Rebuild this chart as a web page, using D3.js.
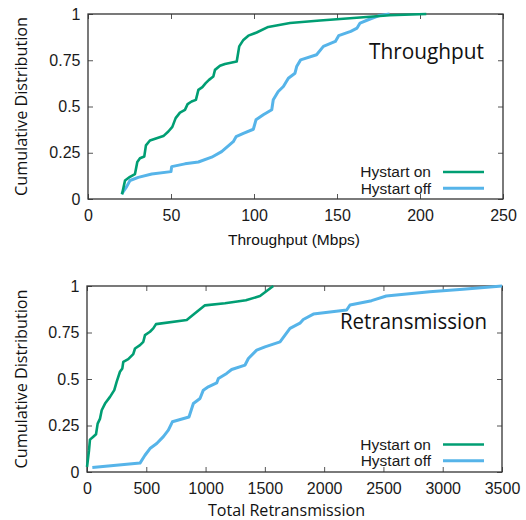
<!DOCTYPE html>
<html>
<head>
<meta charset="utf-8">
<script src="https://cdn.jsdelivr.net/npm/d3@7"></script>
<style>
  html, body { margin: 0; padding: 0; background: #fff; }
  svg { display: block; }
</style>
</head>
<body>
<svg id="chart" width="526" height="520"></svg>
<script>
// CDF of per-flow throughput (Mbps), [value, cumulative fraction]
const throughputOn = [
  [20.5,0.025],[22.3,0.10],[25.3,0.12],[28.3,0.135],[29.7,0.20],[31.3,0.22],[33.9,0.23],
  [34.9,0.29],[37.3,0.316],[45.4,0.34],[48.4,0.365],[50.8,0.39],[52.8,0.437],[55.4,0.467],
  [58.4,0.482],[60,0.513],[62.4,0.527],[65,0.536],[66.5,0.59],[68.9,0.605],[70.9,0.626],
  [72.9,0.644],[75.5,0.662],[76.5,0.698],[79.5,0.72],[82.5,0.73],[89.6,0.743],[91.1,0.825],
  [93.6,0.86],[96.6,0.883],[101.6,0.90],[108.6,0.93],[121.7,0.951],[139.8,0.965],
  [163.9,0.981],[181.7,0.993],[203.8,1.0]
];
const throughputOff = [
  [20.3,0.027],[23.3,0.067],[25.3,0.10],[30.3,0.117],[38.4,0.135],[50,0.148],[50.4,0.175],
  [58.4,0.19],[66.5,0.20],[74.5,0.226],[80.5,0.256],[87.5,0.31],[89.2,0.337],[93.6,0.355],
  [99.6,0.377],[101.2,0.428],[105.6,0.455],[110.7,0.482],[111.6,0.536],[114.6,0.581],
  [117.7,0.608],[120.7,0.653],[124.7,0.68],[125.7,0.716],[128.1,0.752],[137.7,0.78],
  [141.8,0.825],[149,0.852],[151,0.883],[158.3,0.906],[162.1,0.924],[163.9,0.951],
  [169.9,0.973],[175,0.99],[181.7,1.0]
];

// CDF of total retransmissions per flow
const retransOn = [
  [0,0.027],[17,0.117],[25,0.174],[53,0.19],[76,0.203],[90,0.26],[110,0.287],[124,0.332],
  [152,0.368],[194,0.404],[230,0.44],[250,0.485],[278,0.539],[298,0.557],[306,0.592],
  [348,0.607],[390,0.634],[405,0.664],[447,0.682],[475,0.70],[489,0.736],[531,0.754],
  [559,0.772],[582,0.795],[841,0.817],[911,0.853],[995,0.896],[1164,0.907],[1340,0.923],
  [1459,0.946],[1571,1.0]
];
const retransOff = [
  [45,0.024],[447,0.048],[489,0.09],[531,0.126],[588,0.153],[644,0.19],[686,0.225],
  [720,0.27],[860,0.296],[897,0.368],[953,0.395],[981,0.44],[1023,0.458],[1094,0.479],
  [1108,0.503],[1178,0.53],[1220,0.551],[1333,0.575],[1361,0.61],[1431,0.655],[1501,0.673],
  [1628,0.70],[1670,0.736],[1712,0.772],[1796,0.80],[1824,0.82],[1909,0.849],[2190,0.871],
  [2218,0.898],[2400,0.921],[2524,0.946],[2890,0.969],[3171,0.982],[3500,1.0]
];

const throughputTicks = [0, 50, 100, 150, 200, 250];
const retransTicks = [0, 500, 1000, 1500, 2000, 2500, 3000, 3500];
const cdfTicks = [0, 0.25, 0.5, 0.75, 1];
const seriesNames = ["Hystart on", "Hystart off"];

const colors = { on: "#009e73", off: "#56b4e9" };
const tickFont = "'Liberation Sans', Arial, sans-serif";
const labelFont = "'Open Sans', Lato, sans-serif";

const svg = d3.select("#chart");

function panel(cfg) {
  const g = svg.append("g");
  const x = d3.scaleLinear().domain(cfg.xDomain).range([cfg.left, cfg.right]);
  const y = d3.scaleLinear().domain([0, 1]).range([cfg.bottom, cfg.top]);

  const fmt = d3.format("~g");
  const fmtX = d3.format("d");

  // bottom axis with labels, ticks pointing inward
  g.append("g")
    .attr("transform", `translate(0,${cfg.bottom})`)
    .call(d3.axisBottom(x).tickValues(cfg.xTicks).tickSize(-5).tickSizeOuter(0).tickPadding(11).tickFormat(fmtX))
    .call(a => a.select(".domain").remove());
  // top mirror ticks
  g.append("g")
    .attr("transform", `translate(0,${cfg.top})`)
    .call(d3.axisTop(x).tickValues(cfg.xTicks).tickSize(-5).tickSizeOuter(0).tickFormat(""))
    .call(a => a.select(".domain").remove());
  // left axis with labels
  g.append("g")
    .attr("transform", `translate(${cfg.left},0)`)
    .call(d3.axisLeft(y).tickValues(cdfTicks).tickSize(-5).tickSizeOuter(0).tickPadding(7.5).tickFormat(fmt))
    .call(a => a.select(".domain").remove());
  // right mirror ticks
  g.append("g")
    .attr("transform", `translate(${cfg.right},0)`)
    .call(d3.axisRight(y).tickValues(cdfTicks).tickSize(-5).tickSizeOuter(0).tickFormat(""))
    .call(a => a.select(".domain").remove());

  g.selectAll(".tick line").attr("stroke", "#555").attr("stroke-width", 1);
  g.selectAll(".tick text")
    .attr("font-family", tickFont)
    .attr("font-size", 16)
    .attr("fill", "#1a1a1a");

  // plot frame
  g.append("rect")
    .attr("x", cfg.left).attr("y", cfg.top)
    .attr("width", cfg.right - cfg.left).attr("height", cfg.bottom - cfg.top)
    .attr("fill", "none").attr("stroke", "#333").attr("stroke-width", 1.3);

  const line = d3.line().x(d => x(d[0])).y(d => y(d[1]));

  g.append("path").datum(cfg.off)
    .attr("d", line).attr("fill", "none")
    .attr("stroke", colors.off).attr("stroke-width", 3).attr("stroke-linejoin", "round");
  g.append("path").datum(cfg.on)
    .attr("d", line).attr("fill", "none")
    .attr("stroke", colors.on).attr("stroke-width", 2.6).attr("stroke-linejoin", "round");

  // legend
  const legend = [
    { name: seriesNames[0], color: colors.on, w: 2.6, y: cfg.legendY },
    { name: seriesNames[1], color: colors.off, w: 3, y: cfg.legendY + 16.3 }
  ];
  legend.forEach(l => {
    g.append("text")
      .attr("x", 431).attr("y", l.y).attr("dy", "0.35em")
      .attr("text-anchor", "end")
      .attr("font-family", tickFont).attr("font-size", 15.5).attr("fill", "#1a1a1a")
      .text(l.name);
    g.append("line")
      .attr("x1", 443).attr("x2", 484).attr("y1", l.y).attr("y2", l.y)
      .attr("stroke", l.color).attr("stroke-width", l.w);
  });

  // panel title inside the plot
  g.append("text")
    .attr("x", cfg.titleX).attr("y", cfg.titleY)
    .attr("font-family", labelFont).attr("font-weight", 400).attr("font-size", 21).attr("fill", "#111")
    .attr("textLength", cfg.titleW).attr("lengthAdjust", "spacingAndGlyphs")
    .text(cfg.title);

  // y axis label
  const cy = (cfg.top + cfg.bottom) / 2;
  g.append("text")
    .attr("transform", `translate(27,${cy}) rotate(-90)`)
    .attr("text-anchor", "middle")
    .attr("font-family", labelFont).attr("font-size", 16).attr("fill", "#111")
    .attr("textLength", 179).attr("lengthAdjust", "spacingAndGlyphs")
    .text("Cumulative Distribution");

  // x axis label
  g.append("text")
    .attr("x", cfg.xLabelX).attr("y", cfg.xLabelY)
    .attr("text-anchor", "middle")
    .attr("font-family", cfg.xLabelFont).attr("font-size", cfg.xLabelSize).attr("fill", "#111")
    .attr("textLength", cfg.xLabelW).attr("lengthAdjust", "spacingAndGlyphs")
    .text(cfg.xLabel);
}

panel({
  left: 88, right: 503, top: 14, bottom: 199,
  xDomain: [0, 250], xTicks: throughputTicks,
  on: throughputOn, off: throughputOff,
  legendY: 172,
  title: "Throughput", titleX: 369, titleY: 59.3, titleW: 115,
  xLabel: "Throughput (Mbps)", xLabelX: 294, xLabelY: 245, xLabelW: 132,
  xLabelFont: tickFont, xLabelSize: 15.5
});

panel({
  left: 87, right: 502, top: 286, bottom: 472,
  xDomain: [0, 3500], xTicks: retransTicks,
  on: retransOn, off: retransOff,
  legendY: 444.5,
  title: "Retransmission", titleX: 340, titleY: 329.3, titleW: 147,
  xLabel: "Total Retransmission", xLabelX: 286.5, xLabelY: 516, xLabelW: 157,
  xLabelFont: labelFont, xLabelSize: 17
});
</script>
</body>
</html>
